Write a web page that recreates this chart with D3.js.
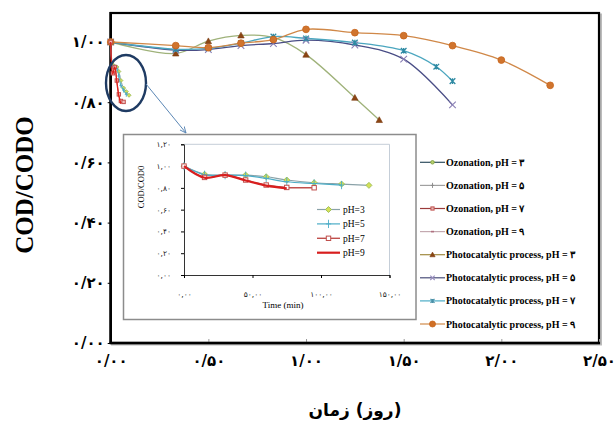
<!DOCTYPE html>
<html><head><meta charset="utf-8">
<script src="https://cdn.jsdelivr.net/npm/d3@7"></script>
<style>body{margin:0;background:#fff}</style>
</head><body><svg id="c" width="616" height="421"></svg>
<script>
// ---------- data ----------
const photoTimes3 = [0, 0.333, 0.5, 0.667, 0.833, 1.0, 1.25, 1.375];
const photoPH3    = [1.00, 0.962, 1.003, 1.022, 1.015, 0.958, 0.815, 0.741];
const photoTimes5 = [0, 0.333, 0.5, 0.667, 0.833, 1.0, 1.25, 1.5, 1.75];
const photoPH5    = [1.00, 0.973, 0.975, 0.988, 0.995, 1.006, 0.99, 0.943, 0.791];
const photoTimes7 = [0, 0.333, 0.5, 0.667, 0.833, 1.0, 1.25, 1.5, 1.667, 1.75];
const photoPH7    = [1.00, 0.976, 0.979, 0.996, 1.018, 1.012, 0.998, 0.971, 0.918, 0.870];
const photoTimes9 = [0, 0.333, 0.5, 0.667, 0.833, 1.0, 1.25, 1.5, 1.75, 2.0, 2.25];
const photoPH9    = [1.00, 0.988, 0.981, 0.996, 1.008, 1.042, 1.031, 1.021, 0.988, 0.94, 0.856];

const ozoneTimesMin = [0, 15, 30, 45, 60, 75, 95, 115, 135];
const ozonePH3 = [1.00, 0.925, 0.918, 0.917, 0.902, 0.872, 0.847, 0.835, 0.823];
const ozonePH5 = [1.00, 0.920, 0.917, 0.912, 0.887, 0.856, 0.840, 0.826];
const ozonePH7 = [1.00, 0.896, 0.917, 0.872, 0.826, 0.804, 0.801];
const ozonePH9 = [1.00, 0.893, 0.917, 0.868, 0.820, 0.795];

const mainXTicks = [0, 0.5, 1, 1.5, 2, 2.5];
const mainYTicks = [0, 0.2, 0.4, 0.6, 0.8, 1.0];
const insetXTicks = [0, 50, 100, 150];
const insetYTicks = [0, 0.2, 0.4, 0.6, 0.8, 1.0, 1.2];

const legendLabels = [
  "Ozonation, pH = ۳", "Ozonation, pH = ۵", "Ozonation, pH = ۷", "Ozonation, pH = ۹",
  "Photocatalytic process, pH = ۳", "Photocatalytic process, pH = ۵",
  "Photocatalytic process, pH = ۷", "Photocatalytic process, pH = ۹"
];
const insetLegendLabels = ["pH=3", "pH=5", "pH=7", "pH=9"];
const xTitle = "\u2066زمان\u2069 \u2066(روز)\u2069";
const yTitle = "COD/CODO";
const insetXTitle = "Time (min)";
const insetYTitle = "COD/COD0";

// ---------- helpers ----------
const faDigits = "۰۱۲۳۴۵۶۷۸۹";
function fa(str){ return String(str).replace(/[0-9]/g, d => faDigits[+d]); }
function fmtMain(v){ const s = v.toFixed(2).split("."); return fa(s[0]) + "/" + fa(s[1]); }
function fmtInset(v){ const s = v.toFixed(2).split("."); return fa(s[0]) + "," + fa(s[1]); }

const svg = d3.select("#c");
const SERIF = "'Liberation Serif','Times New Roman','DejaVu Serif',serif";
const FA = "'DejaVu Sans','Liberation Serif',sans-serif";

function marker(g, type, x, y, s, stroke, fill){
  if (type === "circle") {
    g.append("circle").attr("cx", x).attr("cy", y).attr("r", s).attr("fill", fill).attr("stroke", stroke).attr("stroke-width", 0.8);
  } else if (type === "triangle") {
    g.append("path").attr("d", `M${x},${y-s}L${x+s},${y+s*0.8}L${x-s},${y+s*0.8}Z`).attr("fill", fill).attr("stroke", stroke).attr("stroke-width", 0.6);
  } else if (type === "square") {
    g.append("rect").attr("x", x-s).attr("y", y-s).attr("width", 2*s).attr("height", 2*s).attr("fill", fill).attr("stroke", stroke).attr("stroke-width", 1);
  } else if (type === "diamond") {
    g.append("path").attr("d", `M${x},${y-s}L${x+s},${y}L${x},${y+s}L${x-s},${y}Z`).attr("fill", fill).attr("stroke", stroke).attr("stroke-width", 0.9);
  } else if (type === "x") {
    g.append("path").attr("d", `M${x-s},${y-s}L${x+s},${y+s}M${x-s},${y+s}L${x+s},${y-s}`).attr("stroke", stroke).attr("stroke-width", 1.1).attr("fill","none");
  } else if (type === "star") {
    g.append("path").attr("d", `M${x-s},${y-s}L${x+s},${y+s}M${x-s},${y+s}L${x+s},${y-s}M${x},${y-s}L${x},${y+s}`).attr("stroke", stroke).attr("stroke-width", 1.3).attr("fill","none");
  } else if (type === "plus") {
    g.append("path").attr("d", `M${x},${y-s*1.6}L${x},${y+s*1.6}M${x-s},${y}L${x+s},${y}`).attr("stroke", stroke).attr("stroke-width", 0.9).attr("fill","none");
  } else if (type === "dash") {
    g.append("path").attr("d", `M${x-s},${y}L${x+s},${y}`).attr("stroke", stroke).attr("stroke-width", 1.6);
  }
}

// ---------- main scales ----------
const x = d3.scaleLinear().domain([0, 2.5]).range([110.7, 599]);
const y = d3.scaleLinear().domain([0, 1.1]).range([343, 11.9]);
const smooth = d3.curveCatmullRom.alpha(0.5);

// frame
svg.append("rect").attr("x", 112).attr("y", 14.5).attr("width", 489).attr("height", 330)
  .attr("fill", "none").attr("stroke", "#bbb").attr("stroke-width", 2);
svg.append("rect").attr("x", x(0)).attr("y", 13).attr("width", x(2.5)-x(0)).attr("height", 330)
  .attr("fill", "#fff").attr("stroke", "#000").attr("stroke-width", 2.2);

// axes
const yAx = svg.append("g").attr("transform", `translate(${x(0)},0)`)
  .call(d3.axisLeft(y).tickValues(mainYTicks).tickFormat(fmtMain).tickSize(3).tickPadding(3));
yAx.select(".domain").remove();
yAx.selectAll("text").attr("font-family", FA).attr("font-weight", "bold").attr("font-size", 15).attr("fill", "#000");
const xAx = svg.append("g").attr("transform", `translate(0,343)`)
  .call(d3.axisBottom(x).tickValues(mainXTicks).tickFormat(fmtMain).tickSizeInner(-4).tickSizeOuter(0).tickPadding(12));
xAx.select(".domain").remove();
xAx.selectAll("line").attr("stroke", "#999");
xAx.selectAll("text").attr("font-family", FA).attr("font-weight", "bold").attr("font-size", 15).attr("fill", "#000");
svg.append("line").attr("x1", x(0)).attr("x2", x(0)).attr("y1", 12).attr("y2", 344).attr("stroke", "#000").attr("stroke-width", 2.6);
svg.append("line").attr("x1", x(0)-1).attr("x2", x(2.5)+1).attr("y1", 343).attr("y2", 343).attr("stroke", "#000").attr("stroke-width", 2.6);

// titles
svg.append("text").attr("x", 355).attr("y", 416).attr("text-anchor", "middle")
  .attr("direction", "ltr")
  .attr("font-family", FA).attr("font-weight", "bold").attr("font-size", 17).text(xTitle);
svg.append("text").attr("transform", "translate(33,185) rotate(-90)").attr("text-anchor", "middle")
  .attr("font-family", SERIF).attr("font-weight", "bold").attr("font-size", 25).text(yTitle);

// photocatalytic series
const photo = [
  {t: photoTimes3, v: photoPH3, line: "#9fb27a", m: "triangle", ms: 3.2, mc: "#7a3a10", mf: "#8b4513"},
  {t: photoTimes5, v: photoPH5, line: "#4a4e86", m: "x", ms: 3.3, mc: "#8a7fb5", mf: "none"},
  {t: photoTimes7, v: photoPH7, line: "#4ba6bf", m: "star", ms: 2.8, mc: "#2f8aa3", mf: "none"},
  {t: photoTimes9, v: photoPH9, line: "#d08848", m: "circle", ms: 3.4, mc: "#c8651b", mf: "#d0742e"}
];
const lineGen = d3.line().curve(smooth);
photo.forEach(s => {
  const pts = s.t.map((t, i) => [x(t), y(s.v[i])]);
  svg.append("path").attr("d", lineGen(pts)).attr("fill", "none").attr("stroke", s.line).attr("stroke-width", 1.3);
});
photo.forEach(s => {
  const g = svg.append("g");
  s.t.forEach((t, i) => marker(g, s.m, x(t), y(s.v[i]), s.ms, s.mc, s.mf));
});

// ozonation cluster in main plot (minutes -> days)
const ozone = [
  {v: ozonePH3, line: "#8aa2a8", lw: 1, m: "diamond", ms: 2, mc: "#9bbb59", mf: "#d4e157"},
  {v: ozonePH5, line: "#4bacc6", lw: 1, m: "plus", ms: 1.5, mc: "#4bacc6", mf: "none"},
  {v: ozonePH7, line: "#c0504d", lw: 1, m: "square", ms: 1.7, mc: "#c0504d", mf: "#f2c0bf"},
  {v: ozonePH9, line: "#e0201b", lw: 1.3, m: "none", ms: 0, mc: "", mf: ""}
];
ozone.forEach(s => {
  const pts = s.v.map((v, i) => [x(ozoneTimesMin[i] / 1440), y(v)]);
  svg.append("path").attr("d", lineGen(pts)).attr("fill", "none").attr("stroke", s.line).attr("stroke-width", s.lw);
  const g = svg.append("g");
  s.v.forEach((v, i) => marker(g, s.m, x(ozoneTimesMin[i] / 1440), y(v), s.ms, s.mc, s.mf));
});

// ellipse + arrow
svg.append("defs").append("marker").attr("id", "ah").attr("viewBox", "0 0 10 10")
  .attr("refX", 9).attr("refY", 5).attr("markerWidth", 7).attr("markerHeight", 7).attr("orient", "auto")
  .append("path").attr("d", "M0,1L9,5L0,9").attr("fill", "none").attr("stroke", "#5b87b5").attr("stroke-width", 1.3);
svg.append("ellipse").attr("cx", 126).attr("cy", 83).attr("rx", 20).attr("ry", 28)
  .attr("fill", "none").attr("stroke", "#1f3b63").attr("stroke-width", 2.4);
svg.append("line").attr("x1", 146).attr("y1", 84).attr("x2", 186).attr("y2", 133)
  .attr("stroke", "#5b87b5").attr("stroke-width", 1).attr("marker-end", "url(#ah)");

// ---------- inset ----------
svg.append("rect").attr("x", 123.5).attr("y", 134.5).attr("width", 292.5).attr("height", 185)
  .attr("fill", "#fff").attr("stroke", "#8c8c8c").attr("stroke-width", 1.5);
const xi = d3.scaleLinear().domain([0, 150]).range([184, 389.5]);
const yi = d3.scaleLinear().domain([0, 1.2]).range([275, 144.3]);
svg.append("path").attr("d", `M${xi(0)},${yi(1.2)}H${xi(150)}V${yi(0)}`).attr("fill", "none").attr("stroke", "#c5ced8").attr("stroke-width", 1);
const yiAx = svg.append("g").attr("transform", `translate(${xi(0)},0)`)
  .call(d3.axisLeft(yi).tickValues(insetYTicks).tickFormat(fmtInset).tickSize(3).tickPadding(10));
yiAx.selectAll("text").attr("font-family", FA).attr("font-size", 7.5).attr("fill", "#222");
yiAx.select(".domain").attr("stroke", "#333");
const xiAx = svg.append("g").attr("transform", `translate(0,${yi(0)})`)
  .call(d3.axisBottom(xi).tickValues(insetXTicks).tickFormat(fmtInset).tickSize(3).tickPadding(14));
xiAx.selectAll("text").attr("font-family", FA).attr("font-size", 7.5).attr("fill", "#222");
xiAx.select(".domain").attr("stroke", "#333");
svg.append("text").attr("x", 283).attr("y", 308).attr("text-anchor", "middle")
  .attr("font-family", SERIF).attr("font-size", 9).text(insetXTitle);
svg.append("text").attr("transform", "translate(143.5,187) rotate(-90)").attr("text-anchor", "middle")
  .attr("font-family", SERIF).attr("font-size", 8.5).text(insetYTitle);

const ozoneInset = [
  {v: ozonePH3, line: "#8aa2a8", lw: 1.2, m: "diamond", ms: 3, mc: "#9bbb59", mf: "#d4e157"},
  {v: ozonePH5, line: "#4bacc6", lw: 1.2, m: "plus", ms: 2.6, mc: "#4bacc6", mf: "none"},
  {v: ozonePH7, line: "#c0504d", lw: 1.4, m: "square", ms: 2.2, mc: "#c0504d", mf: "#fff"},
  {v: ozonePH9, line: "#d81e1e", lw: 2.2, m: "none", ms: 0, mc: "", mf: ""}
];
ozoneInset.forEach(s => {
  const pts = s.v.map((v, i) => [xi(ozoneTimesMin[i]), yi(v)]);
  svg.append("path").attr("d", lineGen(pts)).attr("fill", "none").attr("stroke", s.line).attr("stroke-width", s.lw);
  const g = svg.append("g");
  s.v.forEach((v, i) => marker(g, s.m, xi(ozoneTimesMin[i]), yi(v), s.ms, s.mc, s.mf));
});
insetLegendLabels.forEach((lab, i) => {
  const s = ozoneInset[i];
  const ly = 209.5 + i * 14.4;
  svg.append("line").attr("x1", 317).attr("x2", 340).attr("y1", ly).attr("y2", ly).attr("stroke", s.line).attr("stroke-width", s.lw);
  marker(svg.append("g"), s.m, 328.5, ly, s.ms, s.mc, s.mf);
  svg.append("text").attr("x", 343).attr("y", ly + 3.3).attr("font-family", SERIF).attr("font-size", 9.5).text(lab);
});

// ---------- main legend ----------
const legendStyles = [
  {line: "#2f4f5f", m: "circle", ms: 1.8, mc: "#7a9a3a", mf: "#b5cf6b"},
  {line: "#a0a0a0", m: "plus", ms: 1.6, mc: "#888", mf: "none"},
  {line: "#9b3b3b", m: "square", ms: 1.6, mc: "#c0504d", mf: "#e6b9b8"},
  {line: "#c4a9b0", m: "dash", ms: 1.5, mc: "#b07080", mf: "none"},
  {line: "#a08a40", m: "triangle", ms: 2.6, mc: "#7a3a10", mf: "#8b4513"},
  {line: "#4a4e7a", m: "x", ms: 2.2, mc: "#9a8fc0", mf: "none"},
  {line: "#4bacc6", m: "star", ms: 2, mc: "#4a90a8", mf: "none"},
  {line: "#d08a4a", m: "circle", ms: 3, mc: "#c8651b", mf: "#d06f25"}
];
legendLabels.forEach((lab, i) => {
  const s = legendStyles[i];
  const ly = 162.3 + i * 23.1;
  svg.append("line").attr("x1", 420).attr("x2", 445).attr("y1", ly).attr("y2", ly).attr("stroke", s.line).attr("stroke-width", 1.2);
  marker(svg.append("g"), s.m, 432.5, ly, s.ms, s.mc, s.mf);
  svg.append("text").attr("x", 446).attr("y", ly + 3.5).attr("font-family", SERIF)
    .attr("font-weight", "bold").attr("font-size", 10).text(lab);
});
</script></body></html>
